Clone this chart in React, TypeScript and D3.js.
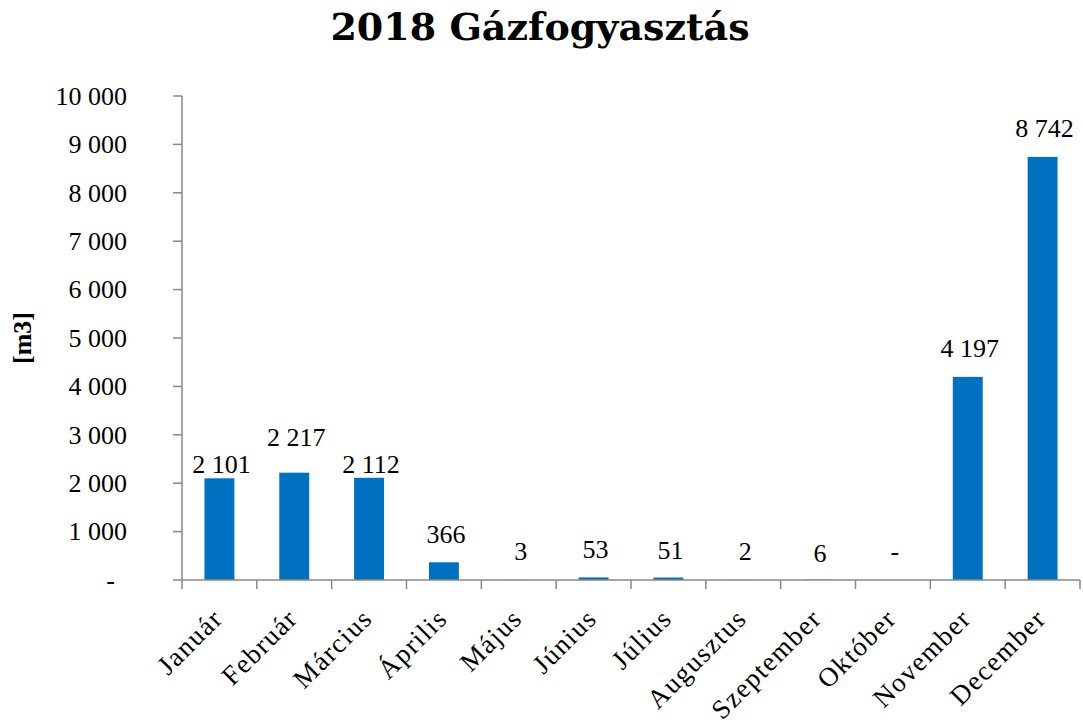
import React from 'react';
import * as d3 from 'd3';

// havi gázfogyasztás 2018, m3
const months = ['Január', 'Február', 'Március', 'Április', 'Május', 'Június', 'Július', 'Augusztus', 'Szeptember', 'Október', 'November', 'December'];
const usage = [2101, 2217, 2112, 366, 3, 53, 51, 2, 6, 0, 4197, 8742];
const yTicks = [0, 1000, 2000, 3000, 4000, 5000, 6000, 7000, 8000, 9000, 10000];
// label distance above bar top (the original labels were nudged by hand)
const labelLift = [5, 27, 5, 19, 20, 19, 19, 20, 18, 20, 20, 20];

const W = 1083;
const H = 725;
const axisColor = '#898989';
const barColor = '#0070C0';
const font = '"Liberation Serif", "Times New Roman", serif';

const hu = d3.formatLocale({ decimal: ',', thousands: ' ', grouping: [3], currency: ['', ''] });
const fmt = (v: number) => (v === 0 ? '-' : hu.format(',')(v));

export default function App() {
  const x = d3.scaleBand<string>().domain(months).range([182, 1080]).padding(0);
  const y = d3.scaleLinear().domain([0, 10000]).range([580, 96]);
  const bw = x.bandwidth() * 0.4;

  return (
    <svg width={W} height={H} style={{ position: 'absolute', left: 0, top: 0, background: '#fff' }}>
      <text x={540} y={40} textAnchor="middle" fontFamily='"DejaVu Serif", serif' fontWeight="bold" fontSize={38}>
        2018 Gázfogyasztás
      </text>

      <text transform="translate(31,338) rotate(-90)" textAnchor="middle" fontFamily={font} fontWeight="bold" fontSize={26}>
        [m3]
      </text>

      {/* y tengely */}
      <line x1={182} x2={182} y1={y(10000)} y2={y(0)} stroke={axisColor} strokeWidth={1.5} />
      {yTicks.map((t) => (
        <g key={t}>
          <line x1={173} x2={182} y1={y(t)} y2={y(t)} stroke={axisColor} strokeWidth={1.5} />
          <text x={t === 0 ? 115 : 127} y={y(t)} dy="0.34em" textAnchor="end" fontFamily={font} fontSize={26} fill="#000">
            {fmt(t)}
          </text>
        </g>
      ))}

      {/* oszlopok */}
      {months.map((m, i) => {
        const cx = (x(m) as number) + x.bandwidth() / 2;
        return (
          <g key={m}>
            <rect x={cx - bw / 2} y={y(usage[i])} width={bw} height={y(0) - y(usage[i])} fill={barColor} />
            <text x={cx + 2} y={y(usage[i]) - labelLift[i]} textAnchor="middle" fontFamily={font} fontSize={26} fill="#000">
              {fmt(usage[i])}
            </text>
          </g>
        );
      })}

      {/* x tengely */}
      <line x1={182} x2={1080} y1={y(0)} y2={y(0)} stroke={axisColor} strokeWidth={1.5} />
      {months.map((m) => (
        <line key={'t' + m} x1={x(m) as number} x2={x(m) as number} y1={y(0)} y2={y(0) + 9} stroke={axisColor} strokeWidth={1.5} />
      ))}
      <line x1={1080} x2={1080} y1={y(0)} y2={y(0) + 9} stroke={axisColor} strokeWidth={1.5} />
      {months.map((m) => {
        const cx = (x(m) as number) + x.bandwidth() / 2;
        return (
          <text key={'l' + m} transform={`translate(${cx + 5},620) rotate(-45)`} textAnchor="end" fontFamily={font} fontSize={27} letterSpacing={1.5} fill="#000">
            {m}
          </text>
        );
      })}
    </svg>
  );
}
